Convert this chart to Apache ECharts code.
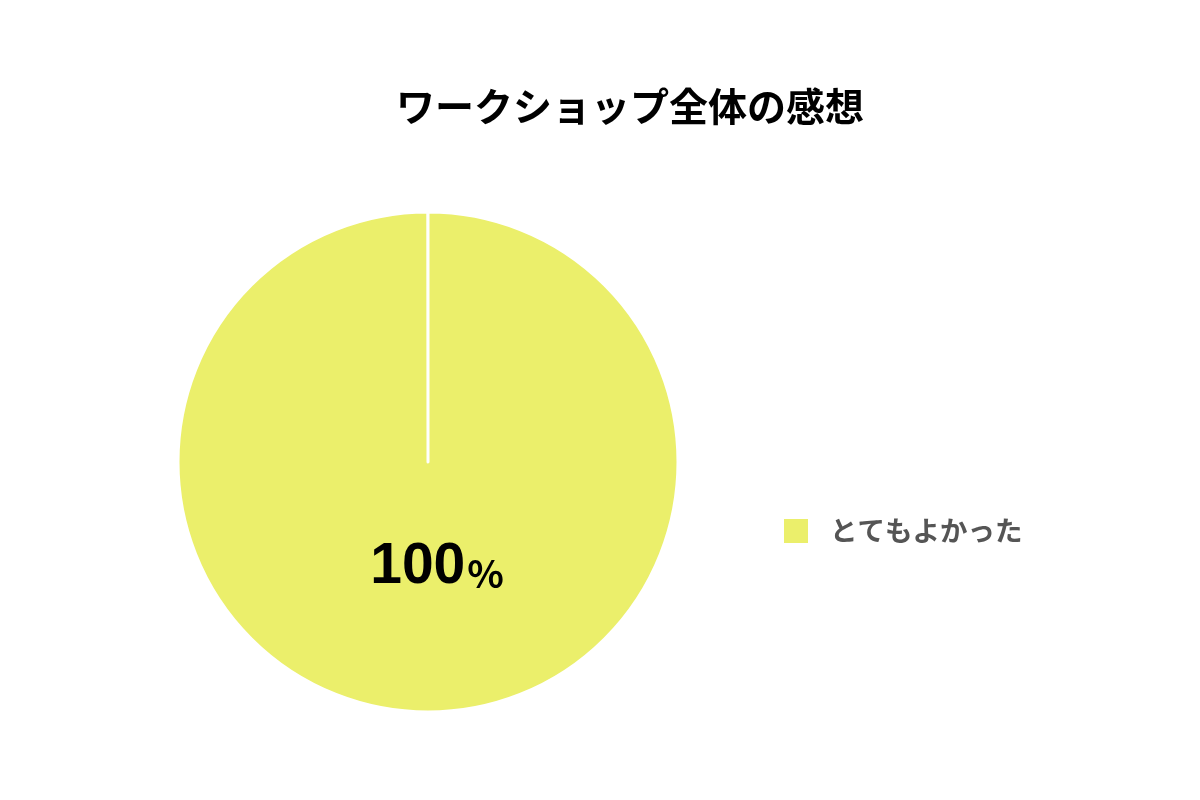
<!DOCTYPE html>
<html><head><meta charset="utf-8">
<script src="https://cdn.jsdelivr.net/npm/echarts@6/dist/echarts.min.js"></script>
<style>html,body{margin:0;padding:0;background:#fff}#c{width:1200px;height:800px}</style>
</head><body><div id="c"></div>
<script>
const titleText = 'ワークショップ全体の感想';
const categories = ['とてもよかった'];
const values = [100];
const colors = ['#EBEF6B'];

const chart = echarts.init(document.getElementById('c'));
chart.setOption({
  backgroundColor: '#ffffff',
  animation: false,
  title: {
    text: titleText, left: 391, top: 82,
    textStyle: { fontFamily: 'Noto Sans CJK JP', fontWeight: 'bold', fontSize: 39, color: '#000' }
  },
  legend: {
    orient: 'vertical', left: 777, top: 512,
    itemWidth: 26, itemHeight: 26, itemGap: 20,
    icon: 'rect',
    data: categories,
    textStyle: { fontFamily: 'Noto Sans CJK JP', fontWeight: 'bold', fontSize: 27.5, color: '#555555', padding: [0,0,0,16] }
  },
  series: [{
    type: 'pie',
    center: [428, 462],
    radius: [0, 250],
    startAngle: 90,
    endAngle: -269.95,
    clockwise: true,
    itemStyle: { borderColor: '#ffffff', borderWidth: 3 },
    color: colors,
    label: {
      show: true, position: 'inside',
      offset: [9, -23],
      formatter: p => '{a|' + p.value + '}{b|%}',
      rich: {
        a: { fontFamily: 'Liberation Sans', fontWeight: 'bold', fontSize: 57, color: '#000' },
        b: { fontFamily: 'Noto Sans CJK JP', fontWeight: 'bold', fontSize: 38, color: '#000', padding: [14,0,0,2] }
      }
    },
    labelLine: { show: false },
    emphasis: { disabled: true },
    data: categories.map((n, i) => ({ name: n, value: values[i] }))
  }]
});
</script></body></html>
